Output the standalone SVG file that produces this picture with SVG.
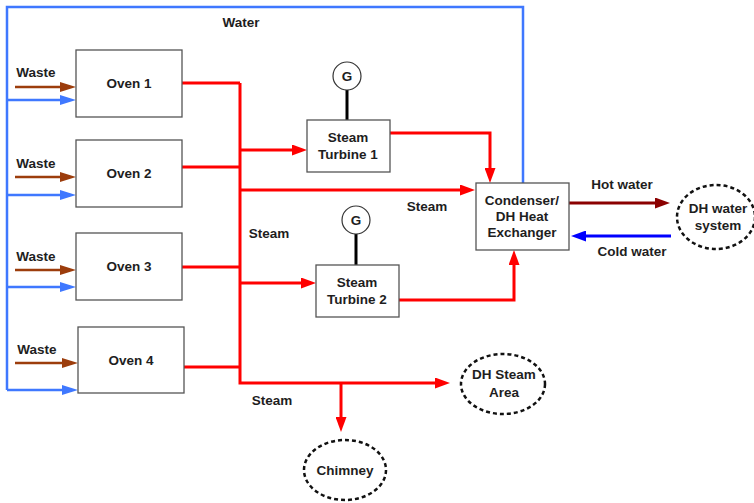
<svg xmlns="http://www.w3.org/2000/svg" width="754" height="503" viewBox="0 0 754 503">
  <style>
    text { font-family: "Liberation Sans", Arial, sans-serif; font-weight: bold; font-size: 13.5px; fill: #1e1e1e; text-anchor: middle; }
    .box { fill: #ffffff; stroke: #555555; stroke-width: 1.3; }
    .ext { fill: #ffffff; stroke: #111111; stroke-width: 2.5; stroke-dasharray: 4 3; }
    .gen { fill: #ffffff; stroke: #333333; stroke-width: 1.2; }
    .steam { fill: none; stroke: #ff0000; stroke-width: 3; }
    .water { fill: none; stroke: #3f78ff; stroke-width: 2.5; }
    .waste { fill: none; stroke: #9c3d0c; stroke-width: 2.5; }
    .hot { fill: none; stroke: #8b0000; stroke-width: 3; }
    .cold { fill: none; stroke: #0000ff; stroke-width: 3; }
    .shaft { fill: none; stroke: #000000; stroke-width: 3; }
  </style>
  <defs>
    <marker id="arrRed" markerUnits="userSpaceOnUse" markerWidth="15" markerHeight="11" refX="0" refY="5.5" orient="auto">
      <path d="M0,0 L15,5.5 L0,11 z" fill="#ff0000"/>
    </marker>
    <marker id="arrBlue" markerUnits="userSpaceOnUse" markerWidth="16" markerHeight="10" refX="0" refY="5" orient="auto">
      <path d="M0,0 L16,5 L0,10 z" fill="#3f78ff"/>
    </marker>
    <marker id="arrBrown" markerUnits="userSpaceOnUse" markerWidth="16" markerHeight="10" refX="0" refY="5" orient="auto">
      <path d="M0,0 L16,5 L0,10 z" fill="#9c3d0c"/>
    </marker>
    <marker id="arrHot" markerUnits="userSpaceOnUse" markerWidth="15" markerHeight="11" refX="0" refY="5.5" orient="auto">
      <path d="M0,0 L15,5.5 L0,11 z" fill="#8b0000"/>
    </marker>
    <marker id="arrCold" markerUnits="userSpaceOnUse" markerWidth="15" markerHeight="11" refX="0" refY="5.5" orient="auto">
      <path d="M0,0 L15,5.5 L0,11 z" fill="#0000ff"/>
    </marker>
  </defs>

  <!-- connectors -->
  <g id="connectors">
    <!-- water return loop -->
    <path class="water" d="M523,183 V7 H7 V390"/>
    <path class="water" d="M7,100 H60" marker-end="url(#arrBlue)"/>
    <path class="water" d="M7,195 H60" marker-end="url(#arrBlue)"/>
    <path class="water" d="M7,287 H60" marker-end="url(#arrBlue)"/>
    <path class="water" d="M7,390 H62" marker-end="url(#arrBlue)"/>

    <!-- waste feeds -->
    <path class="waste" d="M15,87 H60" marker-end="url(#arrBrown)"/>
    <path class="waste" d="M15,177 H60" marker-end="url(#arrBrown)"/>
    <path class="waste" d="M15,270 H60" marker-end="url(#arrBrown)"/>
    <path class="waste" d="M15,363 H62" marker-end="url(#arrBrown)"/>

    <!-- steam header -->
    <path class="steam" d="M182,83 H240"/>
    <path class="steam" d="M182,167 H240"/>
    <path class="steam" d="M182,267 H240"/>
    <path class="steam" d="M184,367 H240"/>
    <path class="steam" d="M240,83 V383 H435" marker-end="url(#arrRed)"/>
    <path class="steam" d="M240,150 H292" marker-end="url(#arrRed)"/>
    <path class="steam" d="M240,190 H460" marker-end="url(#arrRed)"/>
    <path class="steam" d="M240,283 H301" marker-end="url(#arrRed)"/>
    <path class="steam" d="M390,133 H490 V168" marker-end="url(#arrRed)"/>
    <path class="steam" d="M399,300 H514 V265" marker-end="url(#arrRed)"/>
    <path class="steam" d="M341,383 V417" marker-end="url(#arrRed)"/>

    <!-- district heating loop -->
    <path class="hot" d="M569,203 H655" marker-end="url(#arrHot)"/>
    <path class="cold" d="M671,236 H586" marker-end="url(#arrCold)"/>

    <!-- generator shafts -->
    <path class="shaft" d="M347,90 V120"/>
    <path class="shaft" d="M356,234 V265"/>
  </g>

  <!-- flow labels -->
  <g id="labels">
    <text x="241" y="27">Water</text>
    <text x="36" y="77">Waste</text>
    <text x="36" y="168">Waste</text>
    <text x="36" y="261">Waste</text>
    <text x="37" y="354">Waste</text>
    <text x="269" y="238">Steam</text>
    <text x="427" y="211">Steam</text>
    <text x="272" y="405">Steam</text>
    <text x="622" y="189">Hot water</text>
    <text x="632" y="256">Cold water</text>
  </g>

  <g id="oven1">
    <rect class="box" x="76" y="50" width="106" height="67"/>
    <text x="129" y="88">Oven 1</text>
  </g>
  <g id="oven2">
    <rect class="box" x="76" y="140" width="106" height="67"/>
    <text x="129" y="178">Oven 2</text>
  </g>
  <g id="oven3">
    <rect class="box" x="76" y="233" width="106" height="67"/>
    <text x="129" y="271">Oven 3</text>
  </g>
  <g id="oven4">
    <rect class="box" x="78" y="327" width="106" height="66"/>
    <text x="131" y="365">Oven 4</text>
  </g>

  <g id="turbine1">
    <rect class="box" x="307" y="120" width="83" height="52"/>
    <text x="348" y="142">Steam</text>
    <text x="348" y="159">Turbine 1</text>
  </g>
  <g id="generator1">
    <circle class="gen" cx="347" cy="76" r="14"/>
    <text x="347" y="81">G</text>
  </g>

  <g id="turbine2">
    <rect class="box" x="316" y="265" width="83" height="52"/>
    <text x="357" y="287">Steam</text>
    <text x="357" y="304">Turbine 2</text>
  </g>
  <g id="generator2">
    <circle class="gen" cx="356" cy="220" r="14"/>
    <text x="356" y="225">G</text>
  </g>

  <g id="condenser">
    <rect class="box" x="476" y="183" width="93" height="67"/>
    <text x="522" y="205">Condenser/</text>
    <text x="522" y="221">DH Heat</text>
    <text x="522" y="237">Exchanger</text>
  </g>

  <g id="dh-water">
    <ellipse class="ext" cx="716" cy="217" rx="39" ry="32"/>
    <text x="718" y="213">DH water</text>
    <text x="718" y="230">system</text>
  </g>

  <g id="dh-steam">
    <ellipse class="ext" cx="503" cy="384" rx="42" ry="30"/>
    <text x="504" y="379">DH Steam</text>
    <text x="504" y="397">Area</text>
  </g>

  <g id="chimney">
    <ellipse class="ext" cx="345" cy="470" rx="41" ry="30"/>
    <text x="345" y="475">Chimney</text>
  </g>
</svg>
